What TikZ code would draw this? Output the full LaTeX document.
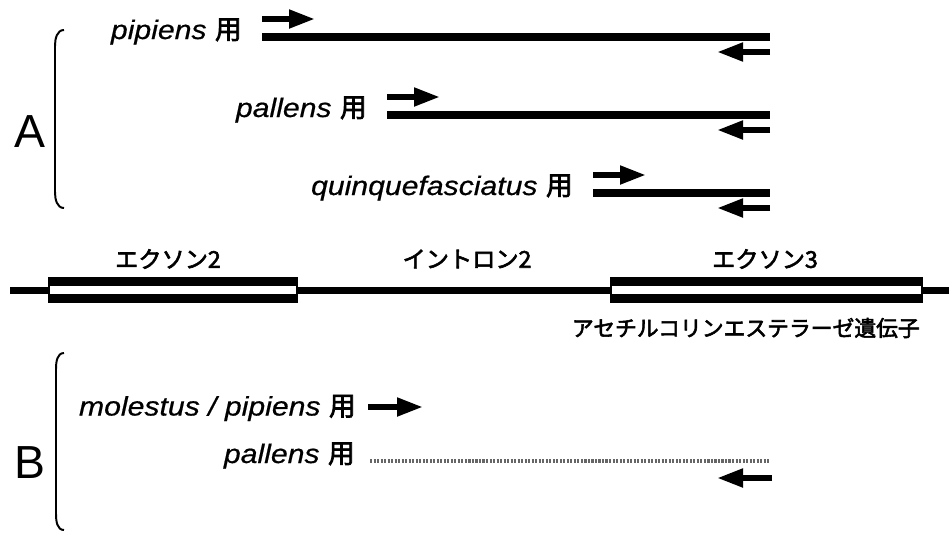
\documentclass[tikz,border=0pt]{standalone}
\usepackage{fontspec}
\setmainfont{Liberation Sans}
\newfontfamily\spname[FakeStretch=1.13, FakeBold=0.6]{Liberation Sans}
\newfontfamily\jp[FakeBold=2.5]{Noto Sans CJK JP}
\usetikzlibrary{arrows.meta}

\newcommand{\yo}{{\upshape\jp 用}}

\begin{document}
\begin{tikzpicture}[every node/.style={inner sep=0pt},
  >={Triangle[length=6.5mm,width=4.4mm]},
  primer/.style={->, line width=4.2pt},
  amplicon/.style={line width=5.3pt},
  faint/.style={line width=3pt, black!60, dash pattern=on 1.5pt off 1pt},
  species/.style={font=\spname\fontsize{19}{22}\selectfont\itshape},
  region/.style={font=\jp\fontsize{16.5}{20}\selectfont},
  group/.style={font=\fontsize{33}{38}\selectfont},
  bracket/.style={line width=1.4pt}]
	\useasboundingbox (0,0) rectangle (23.725,-13.325);

	% A: species specific primer pairs
	\node[group] (A) at (0.75,-3.3) {A};
	\draw[bracket] (1.6,-0.75) to[out=180,in=90] (1.375,-1.15) -- (1.375,-4.8) to[out=-90,in=180] (1.6,-5.2);
	\foreach \sp/\xs/\y in {pipiens/6.55/-0.925, pallens/9.675/-2.875, quinquefasciatus/14.825/-4.825} {
		\node[species, anchor=base east] (lab\sp) at (\xs-0.5,\y-0.05) {\sp\ \yo};
		\draw[amplicon] (\xs,\y) -- (19.25,\y);
		\draw[primer] (\xs,\y+0.45) -- ++(1.325,0);
		\draw[primer] (19.25,\y-0.375) -- ++(-1.325,0);
	}

	% gene with exons 2 and 3
	\draw[amplicon] (0.25,-7.2625) -- (23.725,-7.2625);
	\foreach \xa/\xb in {1.2/7.45, 15.25/23.075} {
		\fill (\xa,-6.925) rectangle (\xb,-7.575);
		\fill[white] (\xa+0.04,-7.16) rectangle (\xb-0.04,-7.36);
	}
	\node[region] (ex2) at (4.2,-6.475) {エクソン2};
	\node[region] (in2) at (11.675,-6.475) {イントロン2};
	\node[region] (ex3) at (19.125,-6.475) {エクソン3};
	\node[region, font=\jp\fontsize{15.5}{19}\selectfont, anchor=east] (gene) at (23.0,-8.2) {アセチルコリンエステラーゼ遺伝子};

	% B: molestus / pipiens and pallens
	\node[group] (B) at (0.75,-11.575) {B};
	\draw[bracket] (1.6,-8.825) to[out=180,in=90] (1.4,-9.225) -- (1.4,-12.85) to[out=-90,in=180] (1.6,-13.25);
	\node[species, anchor=east] (labmol) at (8.9,-10.2) {molestus / pipiens \yo};
	\draw[primer] (9.2,-10.175) -- (10.575,-10.175);
	\node[species, anchor=base east] (labpal) at (8.875,-11.575) {pallens \yo};
	\draw[faint] (9.25,-11.525) -- (19.25,-11.525);
	\draw[primer] (19.3,-11.95) -- (17.925,-11.95);
\end{tikzpicture}
\end{document}
